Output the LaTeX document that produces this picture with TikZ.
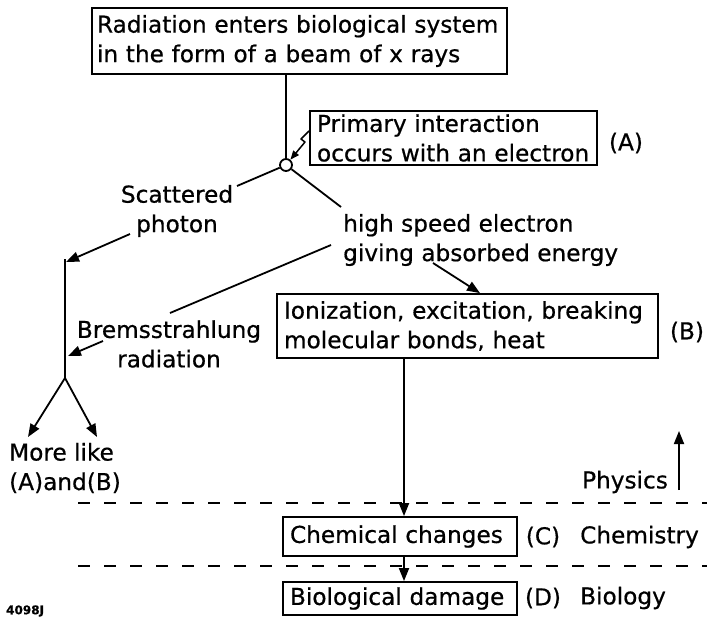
\documentclass[tikz,border=0pt]{standalone}
\usepackage{fontspec}
\setmainfont[FakeBold=0.6]{DejaVu Sans}
\usetikzlibrary{arrows.meta}
\begin{document}
\begin{tikzpicture}[x=1pt,y=-1pt,
  every node/.style={font=\fontsize{23.2}{29.5}\selectfont},
  box/.style={draw, line width=1.8pt, align=left, inner xsep=7pt, inner ysep=0pt},
  link/.style={line width=1.8pt},
  arr/.style={link, -{Triangle[length=13pt,width=10pt]}},
  sep/.style={line width=1.5pt, dash pattern=on 12pt off 14pt},
  lbl/.style={inner sep=0pt, align=center}]
\useasboundingbox (0,0) rectangle (707,624);

% boxes
\node[box, inner xsep=5pt, minimum width=415, text width=405, minimum height=66] (top) at (299.5,41)
  {Radiation enters biological system\\in the form of a beam of x rays};
\node[box, minimum width=287, text width=273, minimum height=54] (prim) at (453.5,138)
  {Primary interaction\\occurs with an electron};
\node[box, minimum width=381, text width=367, minimum height=64] (B) at (467.5,326)
  {Ionization, excitation, breaking\\molecular bonds, heat};
\node[box, minimum width=234, text width=220, minimum height=39] (C) at (400,536.5)
  {Chemical changes};
\node[box, minimum width=234, text width=220, minimum height=33] (D) at (400,598.5)
  {Biological damage};

% free labels
\node[lbl] (scat) at (177,211) {Scattered\\photon};
\node[lbl, anchor=west, align=left] (hse) at (343,240) {high speed electron\\giving absorbed energy};
\node[lbl] (brem) at (169,344) {Bremsstrahlung\\radiation};
\node[lbl, anchor=west, align=left] (more) at (9,468) {More like\\(A)and(B)};
\node[lbl] (la) at (626,143) {(A)};
\node[lbl] (lb) at (687,332) {(B)};
\node[lbl] (phys) at (625,482) {Physics};
\node[lbl] (lc) at (543,537) {(C)};
\node[lbl, anchor=west] (chem) at (580,537) {Chemistry};
\node[lbl] (ld) at (543,598) {(D)};
\node[lbl, anchor=west] (bio) at (580,598) {Biology};
\node[font=\bfseries\fontsize{12}{14}\selectfont, anchor=west, inner sep=0pt] (code) at (6,611) {4098J};

% interaction point
\node[draw, circle, line width=1.8pt, minimum size=12, inner sep=0pt, fill=white] (hit) at (286,165) {};

% free ends of connectors
\coordinate (zz) at (309,131);
\coordinate (s1) at (237,186);
\coordinate (s2) at (130,234);
\coordinate (s3) at (66,262);
\coordinate (s4) at (65,259);
\coordinate (fork) at (65,378);
\coordinate (f1) at (28,437);
\coordinate (f2) at (97,437);
\coordinate (b1) at (331,245);
\coordinate (b2) at (170,313);
\coordinate (b3) at (103,341);
\coordinate (b4) at (68,356);
\coordinate (e1) at (341,207);
\coordinate (e2) at (433,263);
\coordinate (p1) at (679,490);
\coordinate (p2) at (679,431);
\coordinate (d1l) at (78,503);
\coordinate (d1r) at (707,503);
\coordinate (d2l) at (78,566);
\coordinate (d2r) at (707,566);

% incoming beam and the photon hitting the electron
\draw[link] (286,0 |- top.south) -- (hit);
\draw[line width=1.5pt, line join=round, -{Triangle[length=9pt,width=7pt]}] (zz) -- (301,139) -- (305,142) -- (hit);

% scattered photon branch
\draw[link] (hit) -- (s1);
\draw[arr] (s2) -- (s3);
\draw[link] (s4) -- (fork);
\draw[arr] (fork) -- (f1);
\draw[arr] (fork) -- (f2);

% electron branch
\draw[link] (hit) -- (e1);
\draw[link] (b1) -- (b2);
\draw[arr] (b3) -- (b4);
\draw[arr] (e2) -- (480,0 |- B.north);
\draw[arr] (404,0 |- B.south) -- (404,0 |- C.north);
\draw[arr] (404,0 |- C.south) -- (404,0 |- D.north);

% physics marker and stage separators
\draw[arr] (p1) -- (p2);
\draw[sep] (d1l) -- (d1r);
\draw[sep] (d2l) -- (d2r);
\end{tikzpicture}
\end{document}
